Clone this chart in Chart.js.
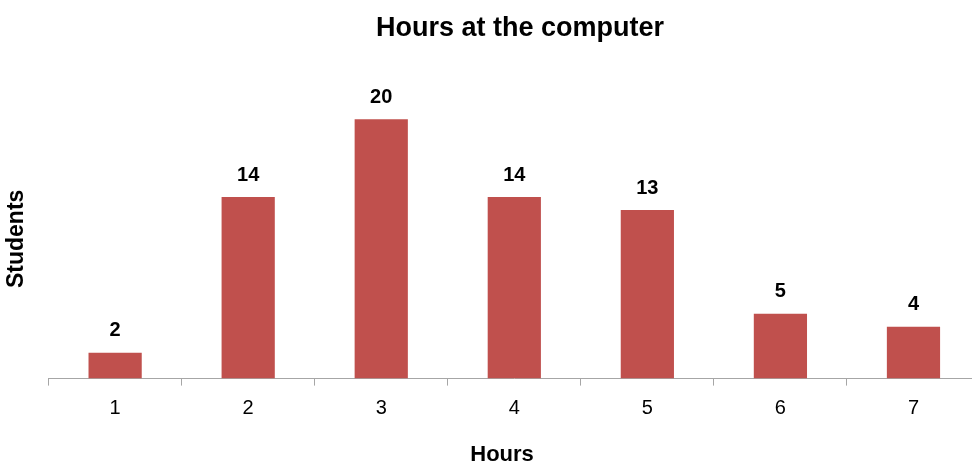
<!DOCTYPE html>
<html>
<head>
<meta charset="utf-8">
<script src="https://cdn.jsdelivr.net/npm/chart.js@4/dist/chart.umd.min.js"></script>
<style>
    html, body { margin: 0; padding: 0; background: #fff; overflow: hidden; }
    #wrap { width: 1040px; height: 468px; }
</style>
</head>
<body>
<div id="wrap"><canvas id="graph"></canvas></div>
<script>
const hours = ['1', '2', '3', '4', '5', '6', '7'];
const students = [2, 14, 20, 14, 13, 5, 4];

const FONT = "'Liberation Sans', Arial, sans-serif";

// values drawn above each bar
const valueLabels = {
    id: 'valueLabels',
    afterDatasetsDraw(chart) {
        const ctx = chart.ctx;
        const meta = chart.getDatasetMeta(0);
        ctx.save();
        ctx.font = 'bold 20px ' + FONT;
        ctx.fillStyle = '#000';
        ctx.textAlign = 'center';
        ctx.textBaseline = 'middle';
        meta.data.forEach((bar, i) => {
            ctx.fillText(students[i], bar.x, bar.y - 22);
        });
        ctx.restore();
    }
};

const canvas = document.getElementById('graph');

let chart = new Chart(canvas, {
    type: 'bar',
    data: {
        labels: hours,
        datasets: [{
            label: 'Students',
            data: students,
            backgroundColor: '#C0504D',
            categoryPercentage: 1,
            barPercentage: 0.4
        }]
    },
    options: {
        responsive: true,
        maintainAspectRatio: false,
        animation: false,
        layout: {
            padding: { top: 7, right: 0, bottom: 0, left: 0 }
        },
        plugins: {
            legend: { display: false },
            tooltip: { enabled: false },
            title: {
                display: true,
                text: 'Hours at the computer',
                color: '#000',
                font: { family: FONT, size: 27, weight: 'bold' },
                padding: { top: 5, bottom: 10 }
            }
        },
        scales: {
            x: {
                grid: {
                    display: true,
                    drawOnChartArea: false,
                    drawTicks: true,
                    tickLength: 7,
                    color: '#A6A6A6'
                },
                border: { display: true, color: '#A6A6A6' },
                ticks: {
                    color: '#000',
                    padding: 11,
                    font: { family: FONT, size: 20 }
                },
                title: {
                    display: true,
                    text: 'Hours    ',
                    color: '#000',
                    font: { family: FONT, size: 22, weight: 'bold' },
                    padding: { top: 10, bottom: 0 }
                }
            },
            y: {
                min: 0,
                max: 25,
                grid: { display: false, drawTicks: false },
                border: { display: false },
                ticks: { display: false },
                title: {
                    display: true,
                    text: 'Students       ',
                    color: '#000',
                    font: { family: FONT, size: 23, weight: 'bold' },
                    padding: { top: 3, bottom: 18 }
                }
            },
            // empty right-hand box so the plot runs past the window edge
            yRight: {
                position: 'right',
                grid: { display: false, drawTicks: false },
                border: { display: false },
                ticks: { display: false },
                afterFit(scale) {
                    scale.width = 60;
                }
            }
        }
    },
    plugins: [valueLabels]
});
</script>
</body>
</html>
